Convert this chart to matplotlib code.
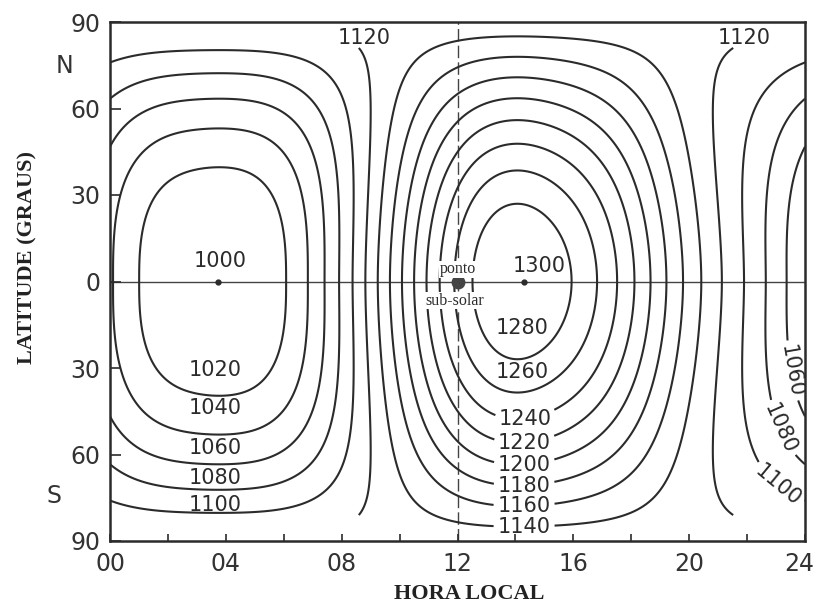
import numpy as np
import matplotlib
matplotlib.use("Agg")
import matplotlib.pyplot as plt
from matplotlib.transforms import ScaledTranslation

# Equator crossings: local hour -> temperature (K)
eq_hours = [0.00, 1.00, 3.72, 6.19, 6.79, 7.38, 7.93, 8.34, 8.79, 9.28, 9.76,
            10.07, 10.45, 10.97, 11.31, 11.83, 12.69, 14.31, 15.97, 16.83,
            17.48, 18.03, 18.72, 19.38, 19.66, 20.41, 21.10, 21.83, 22.76, 23.38]
eq_temps = [1041, 1020, 1000, 1020, 1040, 1060, 1080, 1100, 1120, 1140, 1160,
            1180, 1200, 1220, 1240, 1260, 1280, 1300, 1280, 1260,
            1240, 1220, 1200, 1180, 1160, 1140, 1120, 1100, 1080, 1060]

levels = [1020, 1040, 1060, 1080, 1100, 1120, 1140, 1160, 1180, 1200,
          1220, 1240, 1260, 1280]
subsolar_hour = 12.0

# Jacchia-type latitude structure (night minimum, bulge amplitude, exponent)
T_night = 1000.0
R = 0.3
m = 2.5
n_harm = 5

ink = "#2b2b2b"


def fourier_basis(t, k_max):
    w = 2 * np.pi * np.asarray(t, float) / 24.0
    cols = [np.ones_like(w)]
    for k in range(1, k_max + 1):
        cols += [np.cos(k * w), np.sin(k * w)]
    return np.column_stack(cols)


# smooth daily curve along the equator, least squares through the crossings
wts = np.ones(len(eq_temps))
wts[[int(np.argmin(eq_temps)), int(np.argmax(eq_temps))]] = 3.0
B = fourier_basis(eq_hours, n_harm)
coef, *_ = np.linalg.lstsq(B * wts[:, None], np.asarray(eq_temps) * wts,
                           rcond=None)

hours = np.linspace(0, 24, 1201)
lats = np.linspace(-90, 90, 721)
teq = fourier_basis(hours, n_harm) @ coef
half = np.radians(np.abs(lats)) / 2
s = np.sin(half) ** m
c = np.cos(half) ** m
T = T_night * (1 + R * s[:, None]) + (c - s)[:, None] * (teq[None, :] - T_night)
LAT = np.repeat(lats[:, None], len(hours), axis=1)
T_cut = np.ma.masked_where(np.abs(LAT) > 81, T)  # 1120 drawn without polar part

fig = plt.figure(figsize=(8.18, 6.04), dpi=100)
ax = fig.add_axes([110 / 818, 1 - 541 / 604, 695 / 818, 519 / 604])

sets = {}
for lev in levels:
    field = T_cut if lev == 1120 else T
    sets[lev] = ax.contour(hours, lats, field, levels=[lev], colors=ink,
                           linewidths=1.5)

# labels broken into their lines
inline_labels = {1240: (14.3, -44), 1220: (14.3, -54), 1200: (14.3, -62),
                 1180: (14.3, -70), 1160: (14.3, -78), 1140: (14.3, -85.5),
                 1060: (23.5, -31), 1080: (23.17, -51), 1100: (22.8, -74)}
for lev, pos in inline_labels.items():
    texts = ax.clabel(sets[lev], manual=[pos], inline=True, fmt="%d",
                      fontsize=15, colors=ink, inline_spacing=4)
    if lev >= 1140:
        for t in texts:
            t.set_rotation(0)

# labels sitting beside their lines
side_labels = [(3.79, 7, "1000"), (14.81, 5.5, "1300"),
               (8.79, 84.3, "1120"), (21.9, 84.6, "1120"),
               (3.64, -30.8, "1020"), (3.64, -44, "1040"),
               (3.64, -57.6, "1060"), (3.64, -68, "1080"),
               (3.64, -77.4, "1100"), (14.22, -16.3, "1280"),
               (14.22, -31.5, "1260")]
for x, y, txt in side_labels:
    ax.text(x, y, txt, ha="center", va="center", fontsize=15, color=ink)

ax.axhline(0, color="#444", lw=1.0, zorder=1)
ax.axvline(subsolar_hour, color="#444", lw=1.0, ls=(0, (9, 3)), zorder=1)

i_min = int(np.argmin(eq_temps))
i_max = int(np.argmax(eq_temps))
ax.plot([eq_hours[i_min], eq_hours[i_max]], [0, 0], "o", ms=3.5, color=ink,
        zorder=4)
ax.plot([subsolar_hour], [0], "o", ms=9, color="#444", zorder=4)

serif = dict(family="Liberation Serif", fontsize=11.5, color=ink,
             ha="center", va="center", zorder=5)
ax.text(subsolar_hour, 4.2, "ponto",
        bbox=dict(fc="white", ec="none", pad=0.3), **serif)
ax.text(subsolar_hour - 0.1, -6.6, "sub-solar",
        bbox=dict(fc="white", ec="none", pad=0.3), **serif)

ax.set_xlim(0, 24)
ax.set_ylim(-90, 90)
ax.set_xticks([0, 4, 8, 12, 16, 20, 24])
ax.set_xticklabels(["00", "04", "08", "12", "16", "20", "24"])
ax.set_xticks([2, 6, 10, 14, 18, 22], minor=True)
ax.set_yticks([-90, -60, -30, 0, 30, 60, 90])
ax.set_yticklabels(["90", "60", "30", "0", "30", "60", "90"])
ax.tick_params(axis="x", which="both", direction="in", length=5, width=1.2,
               top=False, labelsize=17, pad=8, color=ink, labelcolor="#333")
ax.tick_params(axis="y", direction="in", length=8, width=1.2, right=False,
               labelsize=17, pad=7, color=ink, labelcolor="#333")
last = ax.get_xticklabels()[-1]
last.set_transform(last.get_transform()
                   + ScaledTranslation(-4 / 72, 0, fig.dpi_scale_trans))
for sp in ax.spines.values():
    sp.set_linewidth(1.8)
    sp.set_color(ink)

fig.text(64 / 818, 1 - 66 / 604, "N", fontsize=17, color="#333",
         ha="center", va="center")
fig.text(54 / 818, 1 - 496 / 604, "S", fontsize=17, color="#333",
         ha="center", va="center")
fig.text(27 / 818, 1 - 257 / 604, "LATITUDE (GRAUS)", rotation=90,
         family="Liberation Serif", fontweight="bold", fontsize=16,
         color="#222", ha="center", va="center")
fig.text(469 / 818, 1 - 594 / 604, "HORA LOCAL", family="Liberation Serif",
         fontweight="bold", fontsize=16, color="#222", ha="center",
         va="center")

fig.savefig("out.png", dpi=100)
